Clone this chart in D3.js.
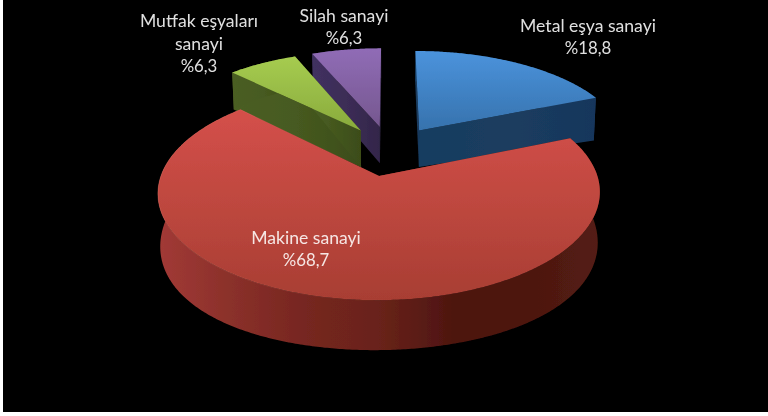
<!DOCTYPE html>
<html>
<head>
<meta charset="utf-8">
<script src="https://cdn.jsdelivr.net/npm/d3@7"></script>
<style>
    html, body { margin: 0; padding: 0; background: #fff; overflow: hidden; }
    svg { display: block; }
</style>
</head>
<body>
<script>
// values
var categories = ["Metal eşya sanayi", "Makine sanayi", "Mutfak eşyaları sanayi", "Silah sanayi"];
var values = [18.8, 68.7, 6.3, 6.3];
var valueLabels = ["%18,8", "%68,7", "%6,3", "%6,3"];
var labelLines = [["Metal eşya sanayi", "%18,8"], ["Makine sanayi", "%68,7"], ["Mutfak eşyaları", "sanayi", "%6,3"], ["Silah sanayi", "%6,3"]];

var topColors = [["#4b93dc", "#3672ad"], ["#d4504a", "#a83e33"], ["#a6cc50", "#89aa3c"], ["#906cb6", "#75578f"]];
var wallColors = [
    ["#173c60", "#1b3d5f", "#17365c"],
    ["#a23a36", "#8a302a", "#762620", "#69231a", "#4e1510", "#4d1510", "#541f13"],
    ["#4b5e22", "#465a20", "#3c4c19"],
    ["#403060", "#3c2d56", "#33264a"]
];
var labelCenters = [[588, 26], [306, 238], [199, 21], [344, 16]];

// picture geometry, pie is seen in perspective and slices are exploded
var width = 768, height = 416;
var ox = 390, oy = 150.6, R = 210, Ry = 97, k = 0.15, explode = 0.257;

var svg = d3.select("body").append("svg")
    .attr("width", width)
    .attr("height", height);

var defs = svg.append("defs");
defs.append("filter").attr("id", "soft")
    .attr("x", "-5%").attr("y", "-5%").attr("width", "110%").attr("height", "110%")
    .append("feGaussianBlur").attr("stdDeviation", 0.45);

svg.append("rect")
    .attr("x", 3)
    .attr("y", 0)
    .attr("width", width - 3)
    .attr("height", 412)
    .attr("fill", "#000");

function project(U, V, low) {
    var w = 1 - k * V;
    var px = R * U / w, py = Ry * V / w;
    if (!low) return [ox + px, oy + py];
    var depth = 38 + 0.08 * py + 0.000215 * px * px;
    return [ox + px * 0.99, oy + py + depth];
}

var pie = d3.pie().value(function (d) { return d; }).sort(null);
var arcs = pie(values);

var line = d3.line().x(function (d) { return d[0]; }).y(function (d) { return d[1]; });

// slice corner in disc coordinates, a is clockwise from the back of the pie
function slicePoint(d, a, r) {
    var mid = (d.startAngle + d.endAngle) / 2;
    return [explode * Math.sin(mid) + r * Math.sin(a), -explode * Math.cos(mid) - r * Math.cos(a)];
}

function rimAngles(d) {
    return d3.range(d.startAngle, d.endAngle, 0.01).concat([d.endAngle]);
}

function topPath(d) {
    var pts = [project.apply(null, slicePoint(d, 0, 0))];
    rimAngles(d).forEach(function (a) {
        pts.push(project.apply(null, slicePoint(d, a, 1)));
    });
    return line(pts) + "Z";
}

function rimWallPath(d) {
    var up = rimAngles(d).map(function (a) {
        var p = slicePoint(d, a, 1);
        return project(p[0], p[1], false);
    });
    var down = rimAngles(d).reverse().map(function (a) {
        var p = slicePoint(d, a, 1);
        return project(p[0], p[1], true);
    });
    return line(up.concat(down)) + "Z";
}

function sideWallPath(d, a) {
    var c = slicePoint(d, 0, 0), p = slicePoint(d, a, 1);
    return line([
        project(c[0], c[1], false), project(p[0], p[1], false),
        project(p[0], p[1], true), project(c[0], c[1], true)
    ]) + "Z";
}

arcs.forEach(function (d, i) {
    var tg = defs.append("linearGradient").attr("id", "top" + i)
        .attr("x1", 0).attr("y1", 0).attr("x2", 0).attr("y2", 1);
    tg.append("stop").attr("offset", "0%").attr("stop-color", topColors[i][0]);
    tg.append("stop").attr("offset", "100%").attr("stop-color", topColors[i][1]);

    var wg = defs.append("linearGradient").attr("id", "wall" + i)
        .attr("x1", 0).attr("y1", 0).attr("x2", 1).attr("y2", 0);
    wallColors[i].forEach(function (c, j) {
        wg.append("stop")
            .attr("offset", (100 * j / (wallColors[i].length - 1)) + "%")
            .attr("stop-color", c);
    });
});

// light edge on the left front of the red slice
var rimG = defs.append("linearGradient").attr("id", "rimLight")
    .attr("x1", 0).attr("y1", 0).attr("x2", 1).attr("y2", 0);
rimG.append("stop").attr("offset", "0%").attr("stop-color", "#f08878").attr("stop-opacity", 0.3);
rimG.append("stop").attr("offset", "55%").attr("stop-color", "#f08878").attr("stop-opacity", 0);

var pieG = svg.append("g").attr("filter", "url(#soft)");

// back slices first, red one comes last because it covers the others
var order = [0, 3, 2, 1];
order.forEach(function (i) {
    var d = arcs[i];
    var g = pieG.append("g").attr("class", "slice").datum(d);
    g.append("path").attr("d", sideWallPath(d, d.startAngle)).attr("fill", "url(#wall" + i + ")");
    g.append("path").attr("d", sideWallPath(d, d.endAngle)).attr("fill", "url(#wall" + i + ")");
    g.append("path").attr("d", rimWallPath(d)).attr("fill", "url(#wall" + i + ")");
    g.append("path").attr("d", topPath(d)).attr("fill", "url(#top" + i + ")")
        .attr("stroke", i == 1 ? "url(#rimLight)" : "none")
        .attr("stroke-width", 1);
});

var textG = svg.append("g").attr("filter", "url(#soft)");
labelLines.forEach(function (lines, i) {
    textG.selectAll("text.l" + i)
        .data(lines)
        .enter()
        .append("text")
        .attr("class", "l" + i)
        .attr("x", labelCenters[i][0])
        .attr("y", function (d, j) { return labelCenters[i][1] + j * 22.5; })
        .attr("dy", "0.35em")
        .attr("text-anchor", "middle")
        .style("font-family", "Lato, 'Open Sans', sans-serif")
        .style("font-size", function (d) { return d.charAt(0) == "%" ? "16.8px" : "17.6px"; })
        .style("fill", i == 1 ? "#f6e6e4" : "#e0e0e0")
        .text(function (d) { return d; });
});
</script>
</body>
</html>
